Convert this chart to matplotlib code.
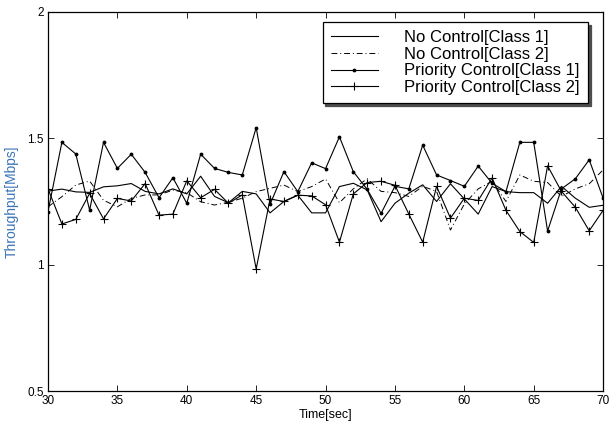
import matplotlib
matplotlib.use("Agg")
from matplotlib import pyplot as plt

plt.rcParams['font.family'] = ['Liberation Sans', 'DejaVu Sans']

time_sec = list(range(30, 71))

# No Control[Class 1]
nc_class1 = [1.291, 1.299, 1.288, 1.286, 1.308, 1.312, 1.321, 1.29, 1.28, 1.30,
             1.28, 1.35, 1.27, 1.245, 1.29, 1.28, 1.205, 1.25, 1.275, 1.205,
             1.205, 1.309, 1.322, 1.296, 1.17, 1.243, 1.283, 1.316, 1.25, 1.32,
             1.26, 1.2, 1.309, 1.289, 1.285, 1.285, 1.243, 1.31, 1.263, 1.227,
             1.235]
# No Control[Class 2]
nc_class2 = [1.229, 1.269, 1.315, 1.331, 1.255, 1.229, 1.262, 1.276, 1.276, 1.295,
             1.285, 1.249, 1.236, 1.247, 1.263, 1.289, 1.302, 1.315, 1.289, 1.309,
             1.339, 1.245, 1.30, 1.34, 1.29, 1.285, 1.27, 1.31, 1.29, 1.137,
             1.24, 1.30, 1.33, 1.25, 1.355, 1.33, 1.325, 1.27, 1.30, 1.32,
             1.375]
# Priority Control[Class 1]
pc_class1 = [1.21, 1.484, 1.438, 1.216, 1.484, 1.381, 1.437, 1.365, 1.265, 1.344,
             1.243, 1.437, 1.381, 1.365, 1.355, 1.542, 1.239, 1.368, 1.289, 1.403,
             1.38, 1.506, 1.368, 1.298, 1.203, 1.31, 1.30, 1.473, 1.355, 1.333,
             1.31, 1.39, 1.322, 1.289, 1.484, 1.484, 1.133, 1.30, 1.34, 1.415,
             1.263]
# Priority Control[Class 2]
pc_class2 = [1.30, 1.161, 1.179, 1.282, 1.181, 1.262, 1.252, 1.321, 1.196, 1.2,
             1.332, 1.265, 1.298, 1.243, 1.276, 0.983, 1.26, 1.25, 1.275, 1.272,
             1.237, 1.089, 1.28, 1.325, 1.33, 1.314, 1.2, 1.089, 1.31, 1.184,
             1.263, 1.254, 1.343, 1.215, 1.131, 1.088, 1.391, 1.29, 1.227, 1.134,
             1.215]

x_ticks = [30, 35, 40, 45, 50, 55, 60, 65, 70]
y_ticks = [0.5, 1, 1.5, 2]
y_labels = ["0.5", "1", "1.5", "2"]

fig = plt.figure(figsize=(6.1, 4.24), dpi=100)
ax = fig.add_axes([0.0787, 0.0778, 0.91, 0.894])

ax.plot(time_sec, nc_class1, color='k', linestyle='-', linewidth=0.8,
        label="No Control[Class 1]")
ax.plot(time_sec, nc_class2, color='k', linestyle='-.', linewidth=0.7,
        dashes=(6, 3, 1, 3), label="No Control[Class 2]")
ax.plot(time_sec, pc_class1, color='k', linestyle='-', linewidth=0.8,
        marker='.', markersize=3.5, label="Priority Control[Class 1]")
ax.plot(time_sec, pc_class2, color='k', linestyle='-', linewidth=0.8,
        marker='+', markersize=6, markeredgewidth=0.8, label="Priority Control[Class 2]")

ax.set_xlim(30, 70)
ax.set_ylim(0.5, 2)
ax.set_xticks(x_ticks)
ax.set_yticks(y_ticks)
ax.set_yticklabels(y_labels)
ax.tick_params(direction='in', length=4, width=0.6, top=True, right=True,
               labelsize=8.5, pad=3)
for sp in ax.spines.values():
    sp.set_linewidth(0.9)

ax.set_xlabel("Time[sec]", fontsize=9, labelpad=1)
ax.set_ylabel("Throughput[Mbps]", fontsize=10, color='#3a74b8', labelpad=6)

# 图例: 右上角, 带阴影的方框
leg = ax.legend(loc='upper right', bbox_to_anchor=(0.973, 0.974), borderaxespad=0,
                fontsize=12, handlelength=2.8, handletextpad=1.6,
                labelspacing=0.1, borderpad=0.5, fancybox=False,
                edgecolor='k', framealpha=1, shadow={'color': '0.3', 'alpha': 1})
leg.get_frame().set_linewidth(0.9)

plt.savefig('out.png', dpi=100)
